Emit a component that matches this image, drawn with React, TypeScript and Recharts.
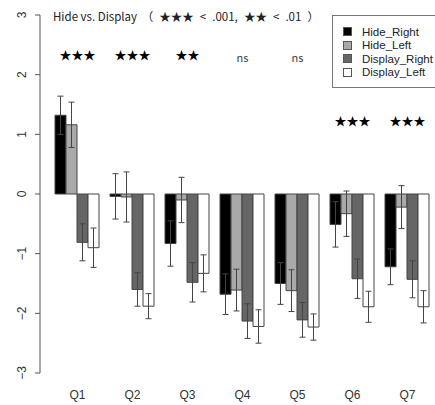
// @ts-nocheck
import React from 'react';
import { ComposedChart, Bar, Line, ErrorBar, XAxis, YAxis } from 'recharts';

const questions = ['Q1', 'Q2', 'Q3', 'Q4', 'Q5', 'Q6', 'Q7'];
const hideRight = [1.32, -0.04, -0.83, -1.68, -1.5, -0.51, -1.22];
const hideRightErr = [0.32, 0.38, 0.38, 0.34, 0.35, 0.38, 0.3];
const hideLeft = [1.16, -0.05, -0.1, -1.61, -1.62, -0.33, -0.22];
const hideLeftErr = [0.38, 0.42, 0.38, 0.35, 0.35, 0.38, 0.36];
const displayRight = [-0.81, -1.6, -1.48, -2.13, -2.11, -1.42, -1.43];
const displayRightErr = [0.31, 0.28, 0.33, 0.29, 0.29, 0.33, 0.31];
const displayLeft = [-0.9, -1.88, -1.33, -2.22, -2.23, -1.89, -1.89];
const displayLeftErr = [0.33, 0.21, 0.31, 0.28, 0.22, 0.26, 0.27];
const sigLabels = ['★★★', '★★★', '★★', 'ns', 'ns', '★★★', '★★★'];
const sigHeights = [2.33, 2.33, 2.33, 2.3, 2.3, 1.24, 1.24];
const yTicks = [-3, -2, -1, 0, 1, 2, 3];

const series = [
    { key: 'Hide_Right', fill: '#000000' },
    { key: 'Hide_Left', fill: '#a9a9a9' },
    { key: 'Display_Right', fill: '#666666' },
    { key: 'Display_Left', fill: '#ffffff' },
];

const data = questions.map((q, i) => ({
    q,
    Hide_Right: hideRight[i],
    Hide_Right_err: hideRightErr[i],
    Hide_Left: hideLeft[i],
    Hide_Left_err: hideLeftErr[i],
    Display_Right: displayRight[i],
    Display_Right_err: displayRightErr[i],
    Display_Left: displayLeft[i],
    Display_Left_err: displayLeftErr[i],
    sigY: sigHeights[i],
}));

const YTick = ({ x, y, payload }) => {
    const tx = x - 7;
    const label = String(payload.value).replace('-', '\u2212');
    return (
        <text x={tx} y={y} transform={`rotate(-90, ${tx}, ${y})`} textAnchor="middle" fontSize={12} fill="#333" fontFamily="Liberation Sans, Arial, sans-serif">
            {label}
        </text>
    );
};

const SigLabel = ({ x, y, index }) => {
    const txt = sigLabels[index];
    const isNs = txt === 'ns';
    return (
        <text x={x} y={y} textAnchor="middle" dominantBaseline="central" fontSize={isNs ? 11 : 12} fill={isNs ? '#444' : '#000'} fontFamily="'Noto Sans CJK JP', sans-serif">
            {txt}
        </text>
    );
};

// legend drawn as an overlay so it does not take space from the plot
const LegendBox = () => (
    <div style={{ position: 'absolute', left: 332, top: 15, width: 110, border: '1px solid #777', background: '#fff', padding: '9px 0 8px 10px', fontFamily: 'Liberation Sans, Arial, sans-serif', fontSize: 11.5, color: '#222' }}>
        {series.map((s) => (
            <div key={s.key} style={{ display: 'flex', alignItems: 'center', height: 13.5 }}>
                <span style={{ display: 'inline-block', width: 7, height: 7, background: s.fill, border: '1px solid #555', marginRight: 10 }} />
                <span>{s.key}</span>
            </div>
        ))}
    </div>
);

export default function App() {
    return (
        <div style={{ position: 'absolute', left: 0, top: 0, width: 435, height: 405, background: '#fff', overflow: 'hidden' }}>
            <ComposedChart width={435} height={405} data={data} margin={{ top: 15, right: 0, bottom: 0, left: 0 }} barCategoryGap={5} barGap={0}>
                <XAxis dataKey="q" axisLine={false} tickLine={false} tickSize={0} tickMargin={17} height={32} padding={{ left: 10, right: 0 }}
                    tick={{ fontSize: 12, fill: '#333', fontFamily: 'Liberation Sans, Arial, sans-serif' }} />
                <YAxis domain={[-3, 3]} ticks={yTicks} width={40} tickSize={5} tickMargin={2} axisLine={{ stroke: '#555' }} tickLine={{ stroke: '#555' }} tick={YTick} interval={0} />
                {series.map((s) => (
                    <Bar key={s.key} dataKey={s.key} fill={s.fill} stroke="#444" strokeWidth={1} isAnimationActive={false}>
                        <ErrorBar dataKey={`${s.key}_err`} width={3} stroke="#444" strokeWidth={1} direction="y" />
                    </Bar>
                ))}
                <Line dataKey="sigY" stroke="none" dot={false} activeDot={false} legendType="none" isAnimationActive={false} label={<SigLabel />} />
            </ComposedChart>
            <LegendBox />
            <div style={{ position: 'absolute', left: 53, top: 8, fontFamily: "'Noto Sans CJK JP', sans-serif", fontSize: 11.5, color: '#222', whiteSpace: 'nowrap' }}>
                Hide vs. Display <span style={{ wordSpacing: 3.5, marginLeft: 2 }}>（ ★★★ &lt; .001, ★★ &lt; .01 ）</span>
            </div>
        </div>
    );
}
